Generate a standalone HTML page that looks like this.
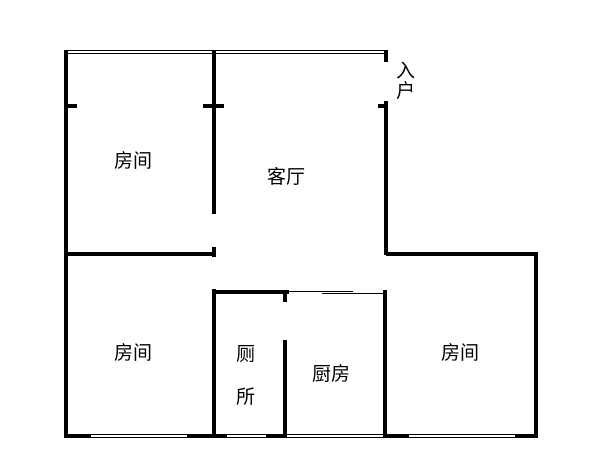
<!DOCTYPE html>
<html><head><meta charset="utf-8"><style>
html,body{margin:0;padding:0;background:#fff;}
svg{display:block}
text{font-family:"Liberation Sans","Noto Sans CJK SC",sans-serif;font-size:19px;fill:#000}
</style></head><body>
<svg width="600" height="473" viewBox="0 0 600 473" xmlns="http://www.w3.org/2000/svg">
<g stroke="#000" fill="none">
<!-- top double thin line -->
<line x1="65" y1="50.5" x2="386" y2="50.5" stroke-width="1"/>
<line x1="65" y1="53.5" x2="386" y2="53.5" stroke-width="1"/>
<g stroke-width="4">
<line x1="66" y1="50" x2="66" y2="438"/>
<line x1="214" y1="50" x2="214" y2="214"/>
<line x1="66" y1="106" x2="77" y2="106"/>
<line x1="203" y1="106" x2="224" y2="106"/>
<line x1="386" y1="50" x2="386" y2="62"/>
<line x1="386" y1="101" x2="386" y2="255"/>
<line x1="378" y1="106" x2="386" y2="106"/>
<line x1="64" y1="254" x2="214" y2="254"/>
<line x1="214" y1="247" x2="214" y2="257"/>
<line x1="386" y1="254" x2="538" y2="254"/>
<line x1="536" y1="252" x2="536" y2="438"/>
<!-- inner -->
<line x1="214" y1="289" x2="214" y2="438"/>
<line x1="212" y1="292" x2="289" y2="292"/>
<line x1="285" y1="292" x2="285" y2="302"/>
<line x1="285" y1="340" x2="285" y2="438"/>
<line x1="385" y1="290" x2="385" y2="438"/>
<!-- bottom thick segments -->
<line x1="64" y1="436" x2="91" y2="436"/>
<line x1="187" y1="436" x2="227" y2="436"/>
<line x1="266" y1="436" x2="287" y2="436"/>
<line x1="383" y1="436" x2="409" y2="436"/>
<line x1="515" y1="436" x2="538" y2="436"/>
</g>
<!-- windows / thin lines -->
<g stroke-width="1">
<line x1="91" y1="434.5" x2="187" y2="434.5"/><line x1="91" y1="437.5" x2="187" y2="437.5"/>
<line x1="227" y1="434.5" x2="266" y2="434.5"/><line x1="227" y1="437.5" x2="266" y2="437.5"/>
<line x1="287" y1="434.5" x2="383" y2="434.5"/><line x1="287" y1="437.5" x2="383" y2="437.5"/>
<line x1="409" y1="434.5" x2="515" y2="434.5"/><line x1="409" y1="437.5" x2="515" y2="437.5"/>
<line x1="288" y1="291.5" x2="353" y2="291.5"/>
<line x1="322" y1="293.5" x2="383" y2="293.5"/>
</g>
</g>
<text x="114" y="167">房间</text>
<text x="267" y="183">客厅</text>
<text x="396" y="77">入</text>
<text x="396" y="97">户</text>
<text x="114" y="359">房间</text>
<text x="236" y="360">厕</text>
<text x="236" y="403">所</text>
<text x="312" y="380">厨房</text>
<text x="441" y="359">房间</text>
</svg>
</body></html>
